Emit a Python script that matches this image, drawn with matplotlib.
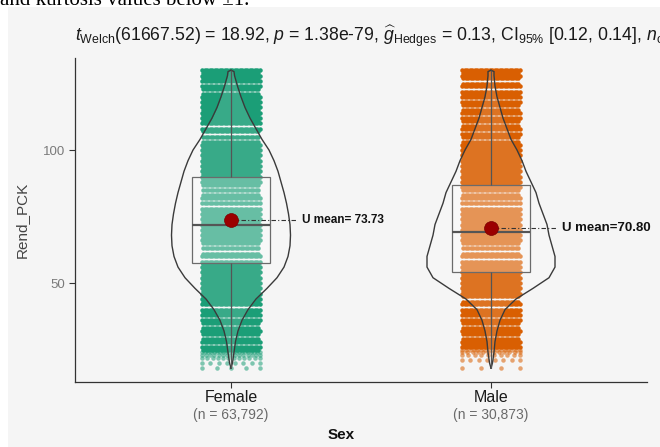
import numpy as np
import matplotlib.pyplot as plt
from matplotlib.patches import Rectangle
from matplotlib.transforms import blended_transform_factory

plt.rcParams['font.family'] = ['Liberation Sans', 'DejaVu Sans']
plt.rcParams['mathtext.fontset'] = 'custom'
plt.rcParams['mathtext.rm'] = 'Liberation Sans'
plt.rcParams['mathtext.it'] = 'Liberation Sans:italic'
plt.rcParams['mathtext.bf'] = 'Liberation Sans:bold'

groups = ['Female', 'Male']
group_n = ['63,792', '30,873']
colors = ['#1b9e77', '#d95f02']
means = [73.73, 70.80]
mean_labels = ['U mean= 73.73', 'U mean=70.80']
q1 = [57.5, 54.2]
medians = [71.8, 69.2]
q3 = [89.8, 86.8]
whisker_lo = [18, 18]
whisker_hi = [130, 130]

# score levels that nobody got (thin white lines through the dot columns)
female_gaps = [125, 122, 109, 106, 104, 86, 84, 81, 79, 64, 62, 59, 41, 37, 34, 30, 27]
male_gaps = [126, 123, 119, 116, 113, 110, 107, 104, 84, 81, 79, 64, 62, 59, 44, 41, 37, 34, 30]
# sparse rows at the low end: score -> dots in the row
female_tail = {24: 20, 23: 15, 22: 12, 20: 8, 18: 5}
male_tail = {25: 16, 24: 12, 23: 10, 21: 8, 18: 4}
tail_start = [25, 26]

# violin outline: half width at each score
violin_y = [18, 20, 24, 28, 32, 36, 40, 44, 48, 52, 56, 60, 64, 68, 72, 76, 80, 84,
            88, 92, 96, 100, 104, 108, 112, 116, 120, 124, 128, 129.5, 130]
female_density = [0, 1.5, 3, 4.5, 7, 11, 17, 25, 36, 46, 53, 57, 59, 59.5, 59, 57.5,
                  55.5, 53, 50, 47, 43, 38, 31, 25, 19, 14, 10, 6.5, 3.5, 3, 0]
male_density = [0, 1.5, 3, 4, 6, 9, 14, 25, 42, 58, 64, 64, 61, 58, 56, 52, 48, 45,
                40, 35, 31, 26, 20, 16, 12, 9, 6, 4, 3, 3, 0]

title = (r'$t_{\mathrm{Welch}}$(61667.52) = 18.92, $p$ = 1.38e-79, '
         r'$\widehat{g}_{\mathrm{Hedges}}$ = 0.13, CI$_{95\%}$ [0.12, 0.14], '
         r'$n_{\mathrm{obs}}$ = 94,665')

fig = plt.figure(figsize=(6.6, 4.47), dpi=100)
fig.patch.set_facecolor('white')
fig.patches.append(Rectangle((8 / 660, 0), 1, 1 - 7 / 447, transform=fig.transFigure,
                             facecolor='#f5f5f5', edgecolor='none', zorder=-10))
fig.text(0.0, 1 - 5 / 447, 'and kurtosis values below \u00b11.', family='Liberation Serif',
         fontsize=15, va='baseline', ha='left')

ax = fig.add_axes([75 / 660, 1 - 382 / 447, 572 / 660, 324 / 447])
ax.set_facecolor('none')

px = 260.0  # pixels per category unit
dens_scale = 1 / px
half_jit = 29 / px
dot_step = 2.5 / px
offsets = np.arange(-half_jit, half_jit + 1e-9, dot_step)

for i, (gaps, tail, dens) in enumerate([(female_gaps, female_tail, female_density),
                                         (male_gaps, male_tail, male_density)]):
    x0 = i + 1
    levels = [v for v in range(tail_start[i], 131) if v not in gaps]
    xs, ys = [], []
    for v in levels:
        shift = dot_step / 2 if v % 2 else 0
        for o in offsets:
            if abs(o + shift) <= half_jit:
                xs.append(x0 + o + shift)
                ys.append(v)
    ax.scatter(xs, ys, s=10.5, color=colors[i], linewidths=0, zorder=1)
    for v, n in tail.items():
        xt = x0 + np.linspace(-half_jit, half_jit, n)
        ax.scatter(xt, [v] * n, s=10.5, color=colors[i], alpha=0.55, linewidths=0, zorder=1)

    w = np.array(dens) * dens_scale
    ax.fill_betweenx(violin_y, x0 - w, x0 + w, color='white', alpha=0.13, lw=0, zorder=2)
    ax.plot(x0 - w, violin_y, color='#3a3a3a', lw=1.0, zorder=3)
    ax.plot(x0 + w, violin_y, color='#3a3a3a', lw=1.0, zorder=3)

    bw = 0.15
    ax.add_patch(Rectangle((x0 - bw, q1[i]), 2 * bw, q3[i] - q1[i], facecolor='white',
                           alpha=0.24, edgecolor='none', zorder=4))
    ax.add_patch(Rectangle((x0 - bw, q1[i]), 2 * bw, q3[i] - q1[i], facecolor='none',
                           edgecolor='#6b6b6b', lw=0.9, zorder=5))
    ax.vlines(x0, whisker_lo[i], q1[i], color='#555555', lw=0.9, zorder=5)
    ax.vlines(x0, q3[i], whisker_hi[i], color='#555555', lw=0.9, zorder=5)
    ax.hlines(medians[i], x0 - bw, x0 + bw, color='#555555', lw=1.6, zorder=5)

    ax.plot([x0, x0 + 0.255], [means[i], means[i]], color='#333333', lw=0.8,
            ls=(0, (4, 2, 1, 2)), zorder=6)
    ax.scatter([x0], [means[i]], s=100, color='#9b0000', edgecolors='#7a0000',
               linewidths=0.5, zorder=7)
    ax.text(x0 + 0.272, means[i], mean_labels[i], fontsize=[8.5, 9.5][i],
            fontweight='bold', va='center', ha='left', color='#111111', zorder=8)

ax.set_xlim(0.4, 2.6)
ax.set_ylim(12.8, 134.6)
ax.set_yticks([50, 100])
ax.set_xticks([1, 2])
ax.set_xticklabels([])
for s in ['top', 'right']:
    ax.spines[s].set_visible(False)
for s in ['left', 'bottom']:
    ax.spines[s].set_color('#333333')
    ax.spines[s].set_linewidth(0.9)
ax.tick_params(axis='both', length=4, width=0.8, color='#333333')
ax.tick_params(axis='y', labelsize=9.5, labelcolor='#7a7a7a', pad=3)
ax.set_ylabel('Rend_PCK', fontsize=11, color='#444444', labelpad=10)

tr = blended_transform_factory(ax.transData, fig.transFigure)
for i, g in enumerate(groups):
    ax.text(i + 1, 1 - 397 / 447, g, transform=tr, ha='center', va='center',
            fontsize=11.5, color='#1a1a1a')
    ax.text(i + 1, 1 - 415 / 447, f'(n = {group_n[i]})', transform=tr, ha='center',
            va='center', fontsize=10, color='#6a6a6a')
fig.text(341 / 660, 1 - 435 / 447, 'Sex', ha='center', va='center', fontsize=11,
         fontweight='bold', color='#111111')

fig.text(75 / 660, 1 - 41 / 447, title, ha='left', va='baseline', fontsize=12.7,
         color='#1a1a1a')

fig.savefig('out.png', dpi=100)
